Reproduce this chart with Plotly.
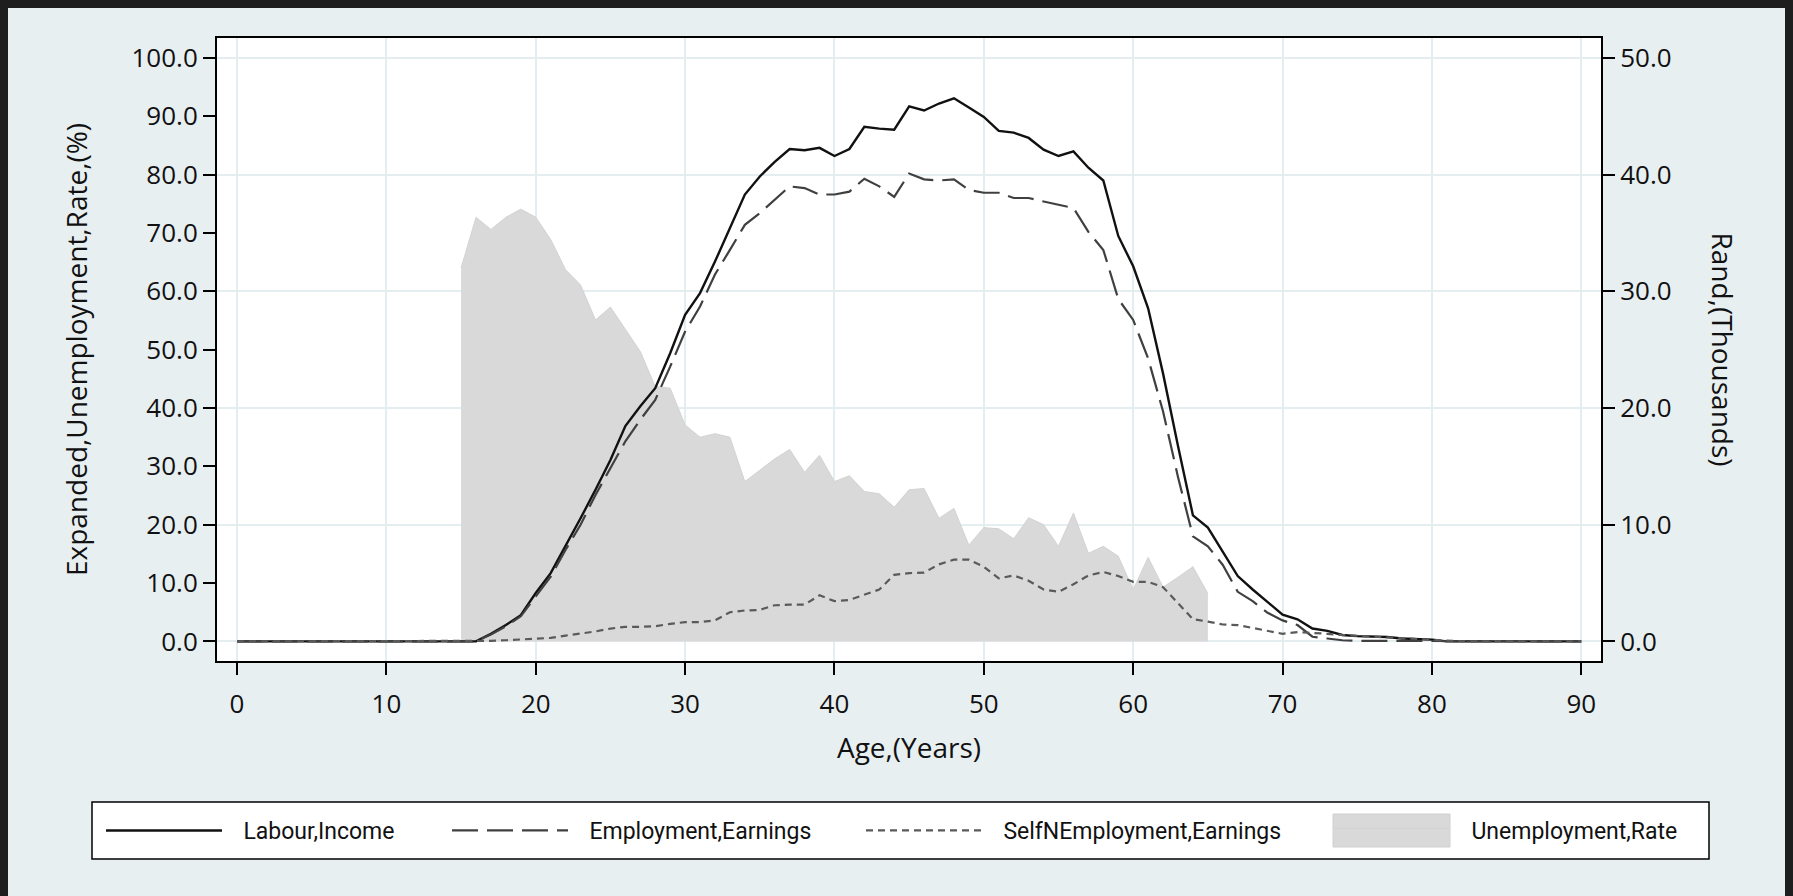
import plotly.graph_objects as go

# ---- data -------------------------------------------------------------
ages = list(range(0, 91))

# Rand (thousands), right axis
labour_income = (
    [0.0] * 17 +
    [0.65, 1.4, 2.25, 4.15, 5.85, 8.15, 10.55, 13.0, 15.55, 18.45,      # 17-26
     20.15, 21.7, 24.7, 28.0, 29.85, 32.55, 35.45, 38.3, 39.85, 41.1,  # 27-36
     42.2, 42.1, 42.3, 41.6, 42.2, 44.1, 43.95, 43.85, 45.85, 45.5,    # 37-46
     46.1, 46.55, 45.75, 44.95, 43.75, 43.6, 43.15, 42.15, 41.6, 42.0, # 47-56
     40.6, 39.5, 34.75, 32.15, 28.55, 22.95, 16.75, 10.8, 9.75, 7.7,   # 57-66
     5.6, 4.45, 3.35, 2.3, 1.9, 1.1, 0.9, 0.55, 0.45, 0.4,             # 67-76
     0.38, 0.25, 0.2, 0.15] +                                          # 77-80
    [0.0] * 10                                                         # 81-90
)

employment_earnings = (
    [0.0] * 17 +
    [0.6, 1.3, 2.15, 3.9, 5.55, 7.85, 10.0, 12.55, 14.85, 17.15,       # 17-26
     19.0, 20.7, 23.55, 26.55, 28.7, 31.45, 33.55, 35.7, 36.7, 37.85,  # 27-36
     39.0, 38.85, 38.3, 38.3, 38.55, 39.65, 39.0, 38.1, 40.1, 39.6,    # 37-46
     39.5, 39.6, 38.7, 38.45, 38.45, 38.0, 38.0, 37.7, 37.4, 37.15,    # 47-56
     35.1, 33.55, 29.35, 27.55, 24.25, 19.7, 14.1, 9.0, 8.15, 6.55,    # 57-66
     4.25, 3.45, 2.45, 1.8, 1.4, 0.4, 0.25, 0.1, 0.05, 0.05,           # 67-76
     0.05, 0.05, 0.05, 0.05] +                                         # 77-80
    [0.0] * 10                                                         # 81-90
)

self_employment_earnings = (
    [0.0] * 17 +
    [0.05, 0.1, 0.18, 0.23, 0.3, 0.5, 0.65, 0.85, 1.1, 1.25,           # 17-26
     1.25, 1.3, 1.5, 1.65, 1.65, 1.8, 2.5, 2.65, 2.7, 3.1,             # 27-36
     3.15, 3.15, 3.95, 3.45, 3.55, 4.0, 4.45, 5.7, 5.85, 5.9,          # 37-46
     6.6, 7.0, 7.0, 6.4, 5.4, 5.65, 5.2, 4.45, 4.25, 4.9,              # 47-56
     5.65, 5.95, 5.6, 5.1, 5.1, 4.65, 3.3, 1.9, 1.7, 1.45,             # 57-66
     1.4, 1.15, 0.9, 0.65, 0.8, 0.75, 0.65, 0.55, 0.48, 0.43,          # 67-76
     0.35, 0.28, 0.23, 0.18, 0.1] +                                    # 77-81
    [0.0] * 9                                                          # 82-90
)

# Expanded unemployment rate (%), left axis, ages 15-65
unemp_ages = list(range(15, 66))
unemployment_rate = [
    64.0, 72.7, 70.6, 72.7, 74.1, 72.7, 68.9, 63.7, 61.1, 55.1,   # 15-24
    57.3, 53.4, 49.7, 43.7, 43.4, 37.1, 35.0, 35.6, 35.0, 27.4,   # 25-34
    29.4, 31.3, 32.9, 29.0, 31.9, 27.4, 28.4, 25.7, 25.3, 23.0,   # 35-44
    26.0, 26.2, 21.1, 22.8, 16.5, 19.5, 19.3, 17.6, 21.2, 20.0,   # 45-54
    16.3, 22.0, 15.1, 16.3, 14.6, 8.9, 14.4, 9.3, 11.0, 12.8,     # 55-64
    8.2,                                                          # 65
]

x_ticks = list(range(0, 91, 10))
left_ticks = list(range(0, 101, 10))
right_ticks = list(range(0, 51, 10))

# ---- styling ----------------------------------------------------------
W, H = 1793, 896
ML, MR, MT, MB = 217, 192, 38, 235
PW, PH = W - ML - MR, H - MT - MB

BG = "#e8eff1"
GRID = "#e4edf0"
FILL = "#d9d9d9"
FRAME = "#1e1e1e"
TICK_FONT = dict(family="Open Sans, Lato, sans-serif", size=26, color="#111111")
TITLE_FONT = dict(family="Open Sans, Lato, sans-serif", size=28, color="#111111")
LEG_FONT = dict(family="Roboto, sans-serif", size=23, color="#111111")
LEG_PAD = "\u2002\u2009"   # gap between key and label


def px_x(p):
    return (p - ML) / PW


def px_y(p):
    return (H - MB - p) / PH


fig = go.Figure()

fig.add_trace(go.Scatter(
    x=unemp_ages, y=unemployment_rate, yaxis="y", mode="lines",
    fill="tozeroy", fillcolor=FILL, line=dict(color="#d3d3d3", width=1),
    name=LEG_PAD + "Unemployment,Rate", legend="legend4", showlegend=True,
    hoverinfo="x+y",
))

fig.add_trace(go.Scatter(
    x=ages, y=labour_income, yaxis="y2", mode="lines",
    line=dict(color="#111111", width=2.4),
    name=LEG_PAD + "Labour,Income", legend="legend", showlegend=True,
))
fig.add_trace(go.Scatter(
    x=ages, y=employment_earnings, yaxis="y2", mode="lines",
    line=dict(color="#404040", width=2.2, dash="26px,9px"),
    name=LEG_PAD + "Employment,Earnings", legend="legend2", showlegend=True,
))
fig.add_trace(go.Scatter(
    x=ages, y=self_employment_earnings, yaxis="y2", mode="lines",
    line=dict(color="#5a5a5a", width=2.2, dash="7px,5px"),
    name=LEG_PAD + "SelfNEmployment,Earnings", legend="legend3", showlegend=True,
))

leg_y = px_y(830.5)
common_leg = dict(orientation="h", yanchor="middle", y=leg_y, xanchor="left",
                  bgcolor="rgba(0,0,0,0)", borderwidth=0, font=LEG_FONT,
                  visible=True)

fig.update_layout(
    width=W, height=H,
    margin=dict(l=ML, r=MR, t=MT, b=MB),
    paper_bgcolor=BG, plot_bgcolor="white",
    showlegend=True,
    legend=dict(x=px_x(101), itemwidth=116, **common_leg),
    legend2=dict(x=px_x(447), itemwidth=116, **common_leg),
    legend3=dict(x=px_x(861), itemwidth=116, **common_leg),
    legend4=dict(x=px_x(1328), itemwidth=117, **common_leg),
    xaxis=dict(
        range=[-1.34, 91.32], tickvals=x_ticks, ticktext=[str(v) for v in x_ticks],
        showgrid=True, gridcolor=GRID, gridwidth=2, zeroline=False,
        showline=True, linecolor="black", linewidth=2, mirror=True,
        ticks="outside", ticklen=12, tickwidth=1.5, tickcolor="black",
        tickfont=TICK_FONT, ticklabelstandoff=7,
        title=dict(text="Age,(Years)", font=TITLE_FONT, standoff=18),
    ),
    yaxis=dict(
        range=[-3.36, 103.43], tickvals=left_ticks,
        ticktext=[f"{v:.1f}" for v in left_ticks],
        showgrid=False, zeroline=False,
        showline=True, linecolor="black", linewidth=2,
        ticks="outside", ticklen=12, tickwidth=1.5, tickcolor="black",
        tickfont=TICK_FONT,
        title=dict(text="Expanded,Unemployment,Rate,(%)", font=TITLE_FONT, standoff=36),
    ),
    yaxis2=dict(
        range=[-1.68, 51.715], tickvals=right_ticks,
        ticktext=[f"{v:.1f}" for v in right_ticks],
        overlaying="y", side="right",
        showgrid=True, gridcolor=GRID, gridwidth=2, zeroline=False,
        showline=True, linecolor="black", linewidth=2,
        ticks="outside", ticklen=12, tickwidth=1.5, tickcolor="black",
        tickfont=TICK_FONT,
    ),
    annotations=[dict(
        text="Rand,(Thousands)", textangle=90, font=TITLE_FONT,
        xref="paper", yref="paper", x=px_x(1723), y=0.5,
        xanchor="center", yanchor="middle", showarrow=False,
    )],
    shapes=[
        # legend frame
        dict(type="rect", xref="paper", yref="paper",
             x0=px_x(92), x1=px_x(1709), y0=px_y(859), y1=px_y(802),
             fillcolor="white", line=dict(color="black", width=1.5), layer="below"),
        # key box for the shaded area
        dict(type="rect", xref="paper", yref="paper",
             x0=px_x(1333), x1=px_x(1450), y0=px_y(847), y1=px_y(814),
             fillcolor=FILL, line=dict(color="#d0d0d0", width=1), layer="above"),
        # dark outer border
        dict(type="rect", xref="paper", yref="paper",
             x0=px_x(0), x1=px_x(8), y0=px_y(H), y1=px_y(0),
             fillcolor=FRAME, line=dict(width=0), layer="above"),
        dict(type="rect", xref="paper", yref="paper",
             x0=px_x(0), x1=px_x(W), y0=px_y(8), y1=px_y(0),
             fillcolor=FRAME, line=dict(width=0), layer="above"),
        dict(type="rect", xref="paper", yref="paper",
             x0=px_x(W - 8), x1=px_x(W), y0=px_y(H), y1=px_y(0),
             fillcolor=FRAME, line=dict(width=0), layer="above"),
    ],
)

fig.write_html("out.html")
